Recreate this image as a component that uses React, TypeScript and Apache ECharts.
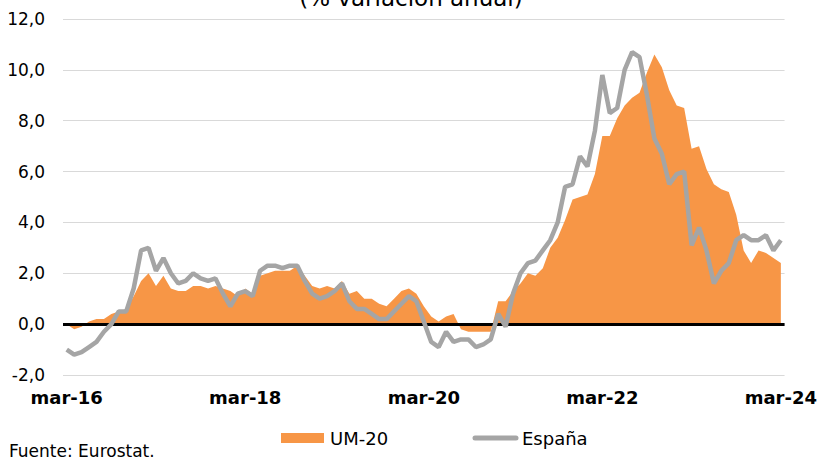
import React, { useEffect, useRef } from "react";
import * as echarts from "echarts";

const monthNames = ["ene", "feb", "mar", "abr", "may", "jun", "jul", "ago", "sep", "oct", "nov", "dic"];

// Monthly data, mar-16 .. mar-24 (% variación anual)
const um20: number[] = [
  // 2016 (mar-dic)
  0.0, -0.2, -0.1, 0.1, 0.2, 0.2, 0.4, 0.5, 0.6, 1.1,
  // 2017
  1.7, 2.0, 1.5, 1.9, 1.4, 1.3, 1.3, 1.5, 1.5, 1.4, 1.5, 1.4,
  // 2018
  1.3, 1.1, 1.4, 1.2, 1.9, 2.0, 2.1, 2.1, 2.1, 2.3, 1.9, 1.5,
  // 2019
  1.4, 1.5, 1.4, 1.7, 1.2, 1.3, 1.0, 1.0, 0.8, 0.7, 1.0, 1.3,
  // 2020
  1.4, 1.2, 0.7, 0.3, 0.1, 0.3, 0.4, -0.2, -0.3, -0.3, -0.3, -0.3,
  // 2021
  0.9, 0.9, 1.3, 1.6, 2.0, 1.9, 2.2, 3.0, 3.4, 4.1, 4.9, 5.0,
  // 2022
  5.1, 5.9, 7.4, 7.4, 8.1, 8.6, 8.9, 9.1, 9.9, 10.6, 10.1, 9.2,
  // 2023
  8.6, 8.5, 6.9, 7.0, 6.1, 5.5, 5.3, 5.2, 4.3, 2.9, 2.4, 2.9,
  // 2024 (ene-mar)
  2.8, 2.6, 2.4,
];

const espana: number[] = [
  // 2016 (mar-dic)
  -1.0, -1.2, -1.1, -0.9, -0.7, -0.3, 0.0, 0.5, 0.5, 1.4,
  // 2017
  2.9, 3.0, 2.1, 2.6, 2.0, 1.6, 1.7, 2.0, 1.8, 1.7, 1.8, 1.2,
  // 2018
  0.7, 1.2, 1.3, 1.1, 2.1, 2.3, 2.3, 2.2, 2.3, 2.3, 1.7, 1.2,
  // 2019
  1.0, 1.1, 1.3, 1.6, 0.9, 0.6, 0.6, 0.4, 0.2, 0.2, 0.5, 0.8,
  // 2020
  1.1, 0.9, 0.1, -0.7, -0.9, -0.3, -0.7, -0.6, -0.6, -0.9, -0.8, -0.6,
  // 2021
  0.4, -0.1, 1.2, 2.0, 2.4, 2.5, 2.9, 3.3, 4.0, 5.4, 5.5, 6.6,
  // 2022
  6.2, 7.6, 9.8, 8.3, 8.5, 10.0, 10.7, 10.5, 9.0, 7.3, 6.7, 5.5,
  // 2023
  5.9, 6.0, 3.1, 3.8, 2.9, 1.6, 2.1, 2.4, 3.3, 3.5, 3.3, 3.3,
  // 2024 (ene-mar)
  3.5, 2.9, 3.3,
];

const startYear = 16;
const startMonth = 2; // marzo
const labelEvery = 24;

const categories: string[] = um20.map((_, i) => {
  const m = (startMonth + i) % 12;
  const y = startYear + Math.floor((startMonth + i) / 12);
  return `${monthNames[m]}-${y}`;
});

const FONT = '"DejaVu Sans", Verdana, sans-serif';

export default function App() {
  const ref = useRef<HTMLDivElement>(null);

  useEffect(() => {
    if (!ref.current) return;
    const chart = echarts.init(ref.current, undefined, { renderer: "svg" });
    chart.setOption({
      animation: false,
      backgroundColor: "#ffffff",
      textStyle: { fontFamily: FONT },
      grid: { left: 63, right: 34, top: 19, bottom: 86, containLabel: false },
      xAxis: {
        type: "category",
        data: categories,
        boundaryGap: true,
        axisLine: { show: false, onZero: false },
        axisTick: { show: false },
        splitLine: { show: false },
        axisLabel: {
          interval: (i: number) => i % labelEvery === 0,
          fontWeight: "bold",
          fontSize: 18,
          color: "#000",
          fontFamily: FONT,
          margin: 13,
        },
      },
      yAxis: {
        type: "value",
        min: -2,
        max: 12,
        interval: 2,
        axisLine: { show: false },
        axisTick: { show: false },
        splitLine: { lineStyle: { color: "#D9D9D9", width: 1 } },
        axisLabel: {
          fontSize: 17,
          color: "#000",
          fontFamily: FONT,
          margin: 18,
          formatter: (v: number) => v.toFixed(1).replace(".", ","),
        },
      },
      graphic: [
        {
          type: "text",
          x: 411,
          y: 9,
          style: {
            text: "(% variación anual)",
            font: `23px ${FONT}`,
            fill: "#000",
            textAlign: "center",
            textVerticalAlign: "bottom",
          },
        },
        {
          type: "rect",
          shape: { x: 281, y: 433, width: 43, height: 10 },
          style: { fill: "#F79646" },
        },
        {
          type: "text",
          x: 330,
          y: 438,
          style: {
            text: "UM-20",
            font: `18px ${FONT}`,
            fill: "#000",
            textAlign: "left",
            textVerticalAlign: "middle",
          },
        },
        {
          type: "line",
          shape: { x1: 475, y1: 438, x2: 516, y2: 438 },
          style: { stroke: "#A5A5A5", lineWidth: 5, lineCap: "round" },
        },
        {
          type: "text",
          x: 522,
          y: 438,
          style: {
            text: "España",
            font: `18px ${FONT}`,
            fill: "#000",
            textAlign: "left",
            textVerticalAlign: "middle",
          },
        },
        {
          type: "text",
          x: 9,
          y: 451,
          style: {
            text: "Fuente: Eurostat.",
            font: `17px ${FONT}`,
            fill: "#000",
            textAlign: "left",
            textVerticalAlign: "middle",
          },
        },
      ],
      series: [
        {
          name: "UM-20",
          type: "line",
          data: um20,
          symbol: "none",
          lineStyle: { width: 0 },
          areaStyle: { color: "#F79646", opacity: 1 },
          z: 2,
          markLine: {
            silent: true,
            symbol: ["none", "none"],
            label: { show: false },
            lineStyle: { color: "#000", width: 3, type: "solid" },
            emphasis: { disabled: true },
            data: [{ yAxis: 0 }],
          },
        },
        {
          name: "España",
          type: "line",
          data: espana,
          symbol: "none",
          lineStyle: { color: "#A5A5A5", width: 4.5 },
          z: 10,
        },
      ],
    });
    return () => chart.dispose();
  }, []);

  return (
    <div
      ref={ref}
      style={{ position: "fixed", left: 0, top: 0, width: 820, height: 461 }}
    />
  );
}
